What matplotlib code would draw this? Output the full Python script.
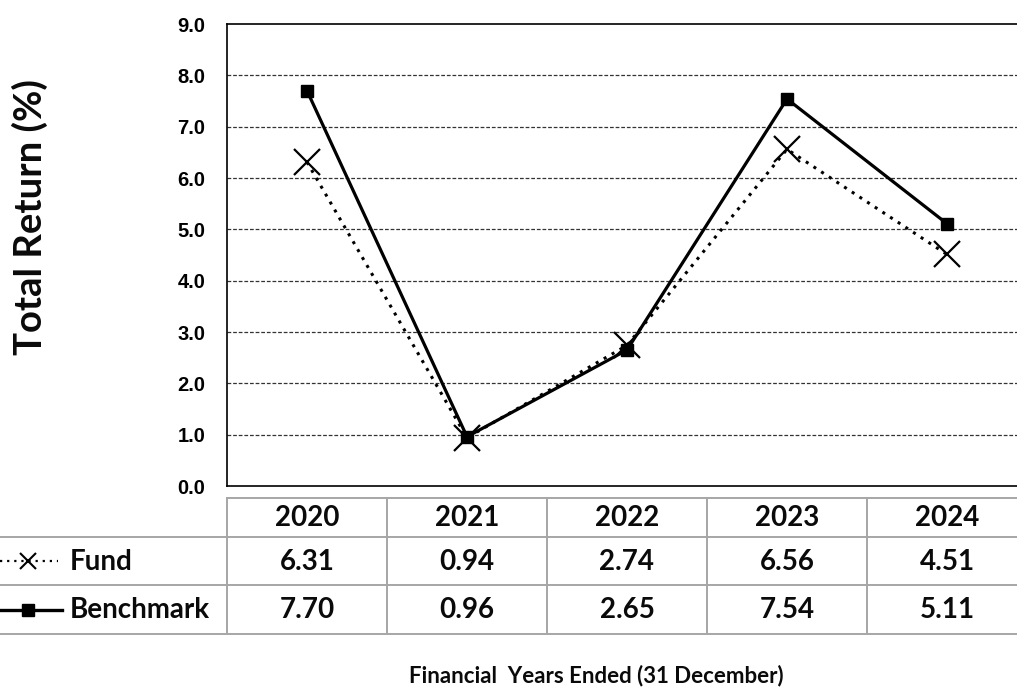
import matplotlib
matplotlib.use("Agg")
import matplotlib.pyplot as plt

years = ["2020", "2021", "2022", "2023", "2024"]
fund = [6.31, 0.94, 2.74, 6.56, 4.51]
benchmark = [7.70, 0.96, 2.65, 7.54, 5.11]
fund_labels = ["6.31", "0.94", "2.74", "6.56", "4.51"]
bench_labels = ["7.70", "0.96", "2.65", "7.54", "5.11"]
yticks = [0, 1, 2, 3, 4, 5, 6, 7, 8, 9]

W, H = 1017, 687
fig = plt.figure(figsize=(W / 100, H / 100), dpi=100)

def fx(px):
    return px / W

def fy(py):
    return 1 - py / H

# main axes (right edge extends beyond the image, as in the reference crop)
left, right, top, bottom = 227, 1027, 24, 486
ax = fig.add_axes([fx(left), fy(bottom), (right - left) / W, (bottom - top) / H])
x = list(range(len(years)))
ax.plot(x, fund, color="black", lw=2.2, linestyle=(0, (1, 2.0)),
        marker="x", markersize=19, markeredgewidth=1.6, zorder=3)
ax.plot(x, benchmark, color="black", lw=2.3, linestyle="-",
        marker="s", markersize=9, zorder=4)
ax.set_xlim(-0.5, len(years) - 0.5)
ax.set_ylim(0, 9)
ax.set_yticks(yticks)
ax.set_yticklabels([f"{v:.1f}" for v in yticks], fontsize=14.5,
                   fontweight="bold", family="Liberation Sans")
ax.tick_params(axis="y", length=0, pad=15.5)
ax.set_xticks([])
for v in yticks[1:-1]:
    ax.axhline(v, color="#333333", lw=0.9, linestyle=(0, (3, 1.5)), zorder=1)
for s in ax.spines.values():
    s.set_color("black")
    s.set_linewidth(1.2)

# overlay axes in pixel coordinates for the data table
ov = fig.add_axes([0, 0, 1, 1])
ov.set_xlim(0, W)
ov.set_ylim(H, 0)
ov.axis("off")

grid_c = "#a6a6a6"
row_y = [498, 537, 585, 634]
col_w = (right - left) / len(years)
col_x = [left + i * col_w for i in range(len(years) + 1)]
ov.plot([left, right], [row_y[0], row_y[0]], color=grid_c, lw=1.4)
for yy in row_y[1:]:
    ov.plot([0, right], [yy, yy], color=grid_c, lw=1.4)
for xx in col_x:
    ov.plot([xx, xx], [row_y[0], row_y[-1]], color=grid_c, lw=1.4)

tfont = dict(family="Lato", fontweight="bold", fontsize=20, color="#0a0a0a",
             ha="center", va="center")
rows = [years, fund_labels, bench_labels]
for r, vals in enumerate(rows):
    yc = (row_y[r] + row_y[r + 1]) / 2 + 1
    for i, v in enumerate(vals):
        ov.text(col_x[i] + col_w / 2, yc, v, **tfont)

# legend keys in the row headers
yc_f = (row_y[1] + row_y[2]) / 2
yc_b = (row_y[2] + row_y[3]) / 2
ov.plot([0, 58], [yc_f, yc_f], color="black", lw=1.6, linestyle=(0, (1, 2.2)))
ov.plot([28], [yc_f], color="black", marker="x", markersize=11, markeredgewidth=1.5)
ov.plot([0, 62], [yc_b, yc_b], color="black", lw=2.4)
ov.plot([28], [yc_b], color="black", marker="s", markersize=9)
ov.text(70, yc_f + 1, "Fund", family="Lato", fontweight="bold", fontsize=20,
        color="#0a0a0a", ha="left", va="center")
ov.text(70, yc_b + 1, "Benchmark", family="Lato", fontweight="bold", fontsize=20,
        color="#0a0a0a", ha="left", va="center")

# axis labels
fig.text(fx(30), fy(217), "Total Return (%)", rotation=90, family="Lato",
         fontweight="bold", fontsize=27.5, color="#0a0a0a", ha="center", va="center")
fig.text(fx(596), fy(676), "Financial  Years Ended (31 December)", family="Lato",
         fontweight="bold", fontsize=16, color="#0a0a0a", ha="center", va="center")

fig.savefig("out.png", dpi=100)
